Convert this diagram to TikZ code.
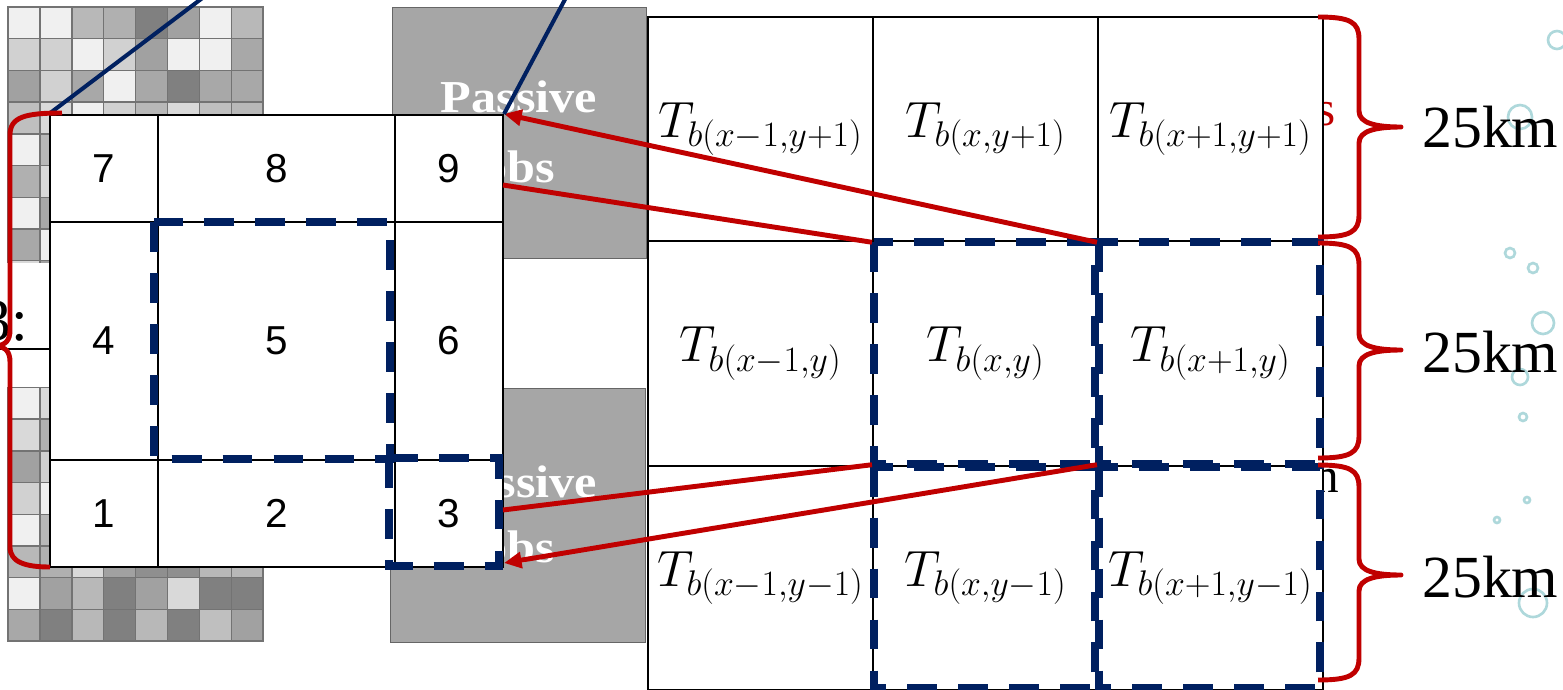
\documentclass[tikz,border=0pt]{standalone}
\usepackage{fix-cm}
\usepackage{fontspec}
\newfontfamily\numfont{Liberation Sans}
\newfontfamily\serfont{Liberation Serif}
\newfontfamily\obsfont{Liberation Serif}[FakeStretch=1.1]
\usetikzlibrary{arrows.meta}
\definecolor{obsRed}{RGB}{192,0,0}
\definecolor{obsNavy}{RGB}{0,32,96}
\definecolor{obsGrey}{RGB}{166,166,166}
\definecolor{bubbleTeal}{RGB}{120,190,195}

\begin{document}
\begin{tikzpicture}[x=0.02cm, y=-0.02cm,
    tbCell/.style={draw, fill=white, line width=1.2pt, inner sep=0pt, minimum width=4.5cm, minimum height=4.49cm, font=\fontsize{29}{33}\selectfont},
    numCell/.style={draw, fill=white, line width=1.2pt, inner sep=0pt, font=\numfont\fontsize{23}{26}\selectfont},
    obsBox/.style={draw=black!60, fill=obsGrey, line width=0.6pt, inner sep=0pt, anchor=north west},
    obsText/.style={text=white, font=\obsfont\bfseries\fontsize{26}{30}\selectfont, anchor=base},
    dashBox/.style={draw=obsNavy, line width=4.5pt, dash pattern=on 17pt off 12pt},
    redLine/.style={draw=obsRed, line width=2.8pt},
    redArrow/.style={redLine, -{Triangle[length=10pt, width=9pt]}},
    navyLine/.style={draw=obsNavy, line width=2.3pt},
    kmBrace/.style={draw=obsRed, line width=2.8pt, line join=round},
    kmLabel/.style={anchor=base west, inner sep=0pt, font=\serfont\fontsize{34}{40}\selectfont},
    fragText/.style={anchor=base east, inner sep=0pt, font=\serfont\fontsize{28}{32}\selectfont},
    bubble/.style={draw=bubbleTeal!60, line width=1.5pt}]

    \path[use as bounding box, fill=white] (0,0) rectangle (1563,690);
    \clip (0,0) rectangle (1563,690);

    \foreach \mr/\vals in {1/{94,94,72,69,50,63,94,72}, 2/{82,82,94,82,63,94,94,66},
        3/{63,82,66,94,66,50,66,66}, 4/{75,85,94,82,72,85,75,72}, 5/{94,72,82,66,94,63,85,69},
        6/{69,85,63,94,72,82,66,94}, 7/{94,66,85,72,63,94,72,82}, 8/{66,94,72,85,82,66,94,63},
        9/{85,63,94,66,72,85,63,94}, 10/{72,82,66,94,85,63,82,72}, 11/{94,72,85,63,94,72,66,85},
        12/{82,66,94,72,63,94,85,66}, 13/{94,85,72,82,66,85,72,94}, 14/{85,69,94,66,85,72,94,63},
        15/{63,82,72,94,66,85,63,82}, 16/{82,94,63,72,85,66,94,72}, 17/{94,72,85,63,94,82,66,85},
        18/{72,69,85,63,56,56,72,72}, 19/{94,63,72,50,63,85,50,50}, 20/{66,50,72,50,72,50,75,63}}{
        \foreach \v [count=\mc from 0] in \vals
            \draw[draw=black!55, line width=0.8pt, fill=white!\v!black] (8+31.9*\mc, 7+31.7*\mr-31.7) rectangle ++(31.9, 31.7);
    }

    \node[fill=white, inner sep=0pt, minimum width=1cm, minimum height=2.48cm, anchor=north west] (gapBox) at (0,263) {};
    \node[anchor=base east, inner sep=0pt, font=\serfont\fontsize{34}{40}\selectfont] (gapTxt) at (28,340) {3:};
    \draw[line width=0.8pt] (0,349) -- (50,349);

    \node[obsBox, minimum width=5.08cm, minimum height=5.02cm] (obsTop) at (392,7) {};
    \node[obsText] (obsTopA) at (519,112) {Passive};
    \node[obsText] (obsTopB) at (519,182) {obs};
    \node[obsBox, minimum width=5.1cm, minimum height=5.08cm] (obsBot) at (390,388) {};
    \node[obsText] (obsBotA) at (519,497) {Passive};
    \node[obsText] (obsBotB) at (519,562) {obs};

    \node[fragText, text=obsRed] (fragS) at (1336,125) {s};
    \node[fragText] (fragN) at (1339,492) {n};

    \node[tbCell] (tl) at (760.5,129) {$T_{b(x-1,y+1)}$};
    \node[tbCell] (tc) at (985.5,129) {$T_{b(x,y+1)}$};
    \node[tbCell] (tr) at (1210.5,129) {$T_{b(x+1,y+1)}$};
    \node[tbCell] (ml) at (760.5,353.5) {$T_{b(x-1,y)}$};
    \node[tbCell] (mc) at (985.5,353.5) {$T_{b(x,y)}$};
    \node[tbCell] (mr) at (1210.5,353.5) {$T_{b(x+1,y)}$};
    \node[tbCell] (bl) at (760.5,578) {$T_{b(x-1,y-1)}$};
    \node[tbCell] (bc) at (985.5,578) {$T_{b(x,y-1)}$};
    \node[tbCell] (br) at (1210.5,578) {$T_{b(x+1,y-1)}$};

    \foreach \bx/\by/\br in {1557/40/9, 1520/117/12, 1510/253/5, 1533/268/5, 1543/323/11,
        1520/377/8, 1523/417/4, 1527/500/3, 1497/520/3, 1533/603/14}
        \draw[bubble] (\bx,\by) circle (\br);

    \node[numCell, minimum width=2.16cm, minimum height=2.14cm] (c7) at (104,168.5) {7};
    \node[numCell, minimum width=4.74cm, minimum height=2.14cm] (c8) at (276.5,168.5) {8};
    \node[numCell, minimum width=2.16cm, minimum height=2.14cm] (c9) at (449,168.5) {9};
    \node[numCell, minimum width=2.16cm, minimum height=4.76cm] (c4) at (104,341) {4};
    \node[numCell, minimum width=4.74cm, minimum height=4.76cm] (c5) at (276.5,341) {5};
    \node[numCell, minimum width=2.16cm, minimum height=4.76cm] (c6) at (449,341) {6};
    \node[numCell, minimum width=2.16cm, minimum height=2.14cm] (c1) at (104,513.5) {1};
    \node[numCell, minimum width=4.74cm, minimum height=2.14cm] (c2) at (276.5,513.5) {2};
    \node[numCell, minimum width=2.16cm, minimum height=2.14cm] (c3) at (449,513.5) {3};

    \draw[dashBox] ([shift={(-3,1)}]c5.north west) rectangle ([shift={(-6,-2)}]c5.south east);
    \draw[dashBox] ([shift={(-5,-1)}]c3.north west) rectangle ([shift={(-5,-2)}]c3.south east);
    \foreach \cc in {mc,mr,bc,br}
        \draw[dashBox] ([shift={(2,2)}]\cc.north west) rectangle ([shift={(-4,-3)}]\cc.south east);

    \coordinate (c9cut) at (503,185);
    \coordinate (c3cut) at (503,510);
    \coordinate (c3tip) at (504,563);
    \draw[redArrow] (tr.south west) -- (c9.north east);
    \draw[redLine] (tc.south west) -- (c9cut);
    \draw[redLine] (bc.north west) -- (c3cut);
    \draw[redArrow] (br.north west) -- (c3tip);

    \coordinate (navyEndA) at (213,-10);
    \coordinate (navyEndB) at (570,-10);
    \draw[navyLine] (c7.north west) -- (navyEndA);
    \draw[navyLine] (c9.north east) -- (navyEndB);

    \draw[kmBrace] (62,113) .. controls (25,113) and (10,117) .. (10,135) -- (10,330)
        .. controls (10,340) and (6,345) .. (-4,346) .. controls (6,347) and (10,352) .. (10,362)
        -- (10,547) .. controls (10,562) and (25,567) .. (50,567);
    \foreach \bt/\bb/\bm in {17/237/127, 243/458/350, 465/680/575}
        \draw[kmBrace] (1318,\bt) .. controls (1350,\bt) and (1359,\bt+5) .. (1359,\bt+22) -- (1359,\bm-16)
            .. controls (1359,\bm-4) and (1375,\bm) .. (1401,\bm) .. controls (1375,\bm) and (1359,\bm+4) .. (1359,\bm+16)
            -- (1359,\bb-22) .. controls (1359,\bb-5) and (1350,\bb) .. (1318,\bb);

    \node[kmLabel] (kmTop) at (1422,147) {25km};
    \node[kmLabel] (kmMid) at (1422,372) {25km};
    \node[kmLabel] (kmBot) at (1422,597) {25km};
\end{tikzpicture}
\end{document}
